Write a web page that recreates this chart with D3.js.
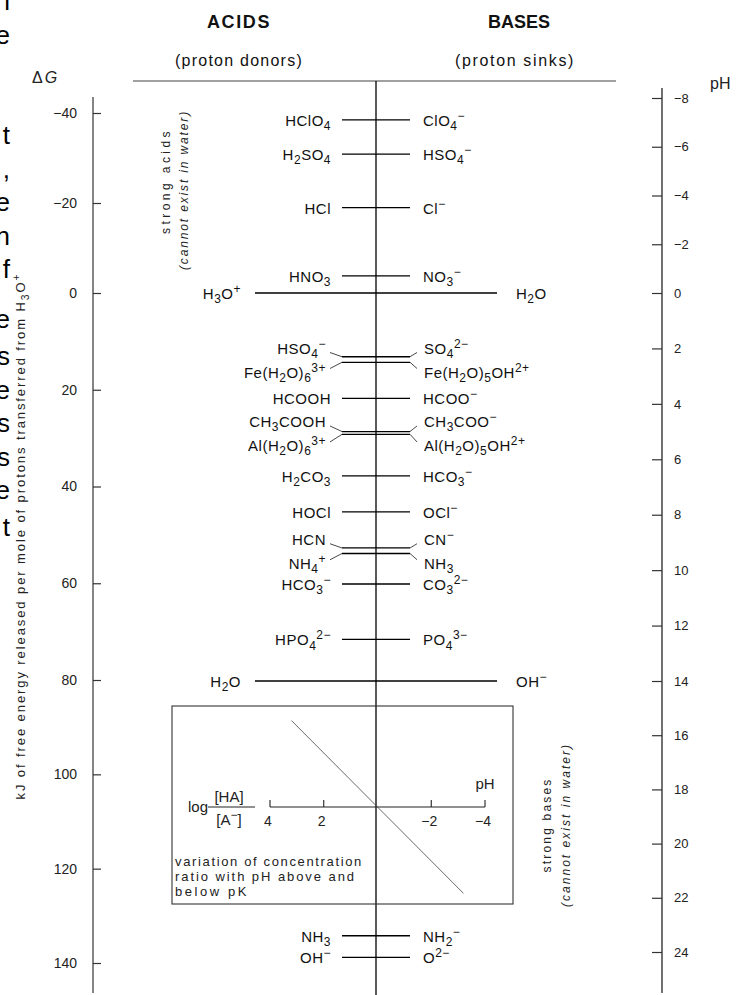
<!DOCTYPE html>
<html>
<head>
<meta charset="utf-8">
<script src="https://cdn.jsdelivr.net/npm/d3@7"></script>
<style>
body { margin: 0; background: #fff; }
svg { display: block; font-family: "Liberation Sans", Arial, sans-serif; }
</style>
</head>
<body>
<script>
// acid / conjugate base pairs, top to bottom, placed by pKa
var acids = ["HClO_4", "H_2SO_4", "HCl", "HNO_3", "H_3O^+", "HSO_4^−", "Fe(H_2O)_6^{3+}", "HCOOH",
    "CH_3COOH", "Al(H_2O)_6^{3+}", "H_2CO_3", "HOCl", "HCN", "NH_4^+", "HCO_3^−", "HPO_4^{2−}",
    "H_2O", "NH_3", "OH^−"];
var bases = ["ClO_4^−", "HSO_4^−", "Cl^−", "NO_3^−", "H_2O", "SO_4^{2−}", "Fe(H_2O)_5OH^{2+}", "HCOO^−",
    "CH_3COO^−", "Al(H_2O)_5OH^{2+}", "HCO_3^−", "OCl^−", "CN^−", "NH_3", "CO_3^{2−}", "PO_4^{3−}",
    "OH^−", "NH_2^−", "O^{2−}"];
var pKa = [-7.1, -5.7, -3.5, -0.7, 0, 2.3, 2.5, 3.8, 5.0, 5.1, 6.6, 7.9, 9.2, 9.4, 10.5, 12.5, 14, 23.4, 24.2];
var waterLimits = [0, 14];   // H3O+ and OH- levelling limits get the long lines

var gTicks = [-40, -20, 0, 20, 40, 60, 80, 100, 120, 140];
var phTicks = [-8, -6, -4, -2, 0, 2, 4, 6, 8, 10, 12, 14, 16, 18, 20, 22, 24];

// inset: log([HA]/[A-]) against pH
var insetTicks = [4, 2, -2, -4];
var insetLineX = [3.2, -3.2];
var insetLineY = [3.2, -3.2];

// clipped letters of the neighbouring page column
var bleedChars = ["l", "e", "t", ",", "e", "n", "f", "e", "s", "e", "s", "s", "e", "t"];
var bleedRow = [0, 1, 4, 5, 6, 7, 8, 9.5, 10.6, 11.6, 12.6, 13.6, 14.6, 15.7];

var W = 742, H = 995;
var cx = 376;

var svg = d3.select("body").append("svg")
    .attr("width", W)
    .attr("height", H);

// pH scale drives the species; the scan is slightly stretched below 0
var y = d3.scaleLinear().domain([-8, 0, 14, 24]).range([98, 293, 681, 952]);
var yG = d3.scaleLinear().domain([-40, 0, 80, 140]).range([113, 293, 680, 963]);

function formula(sel, str, fs) {
    var parts = [];
    var i = 0;
    while (i < str.length) {
        var c = str[i];
        if (c === "_" || c === "^") {
            var body;
            if (str[i + 1] === "{") {
                var j = str.indexOf("}", i);
                body = str.slice(i + 2, j);
                i = j + 1;
            } else {
                body = str[i + 1];
                i += 2;
            }
            parts.push({t: body, k: c});
        } else {
            var last = parts[parts.length - 1];
            if (last && last.k === "n") last.t += c;
            else parts.push({t: c, k: "n"});
            i++;
        }
    }
    var cur = 0;
    parts.forEach(function(p) {
        var off = p.k === "_" ? fs * 0.28 : (p.k === "^" ? -fs * 0.4 : 0);
        sel.append("tspan")
            .attr("dy", off - cur)
            .attr("font-size", p.k === "n" ? fs : fs * 0.8)
            .text(p.t);
        cur = off;
    });
}

function fit(sel, w) {
    sel.each(function() {
        var len = this.getComputedTextLength();
        var n = this.textContent.length;
        if (n > 1) d3.select(this).attr("letter-spacing", (w - len) / n);
    });
}

// bleed letters on the far left
svg.selectAll("text.bleed")
    .data(bleedChars)
    .enter()
    .append("text")
    .attr("class", "bleed")
    .attr("x", 10)
    .attr("y", function(d, i) { return 10 + bleedRow[i] * 33.5; })
    .attr("text-anchor", "end")
    .attr("font-size", 26)
    .attr("fill", "#000")
    .text(function(d) { return d; });

// headers
var heads = [
    {t: "ACIDS", x: 239, y: 28, fs: 18, w: 64, b: true},
    {t: "BASES", x: 519, y: 28, fs: 18, w: 62, b: true},
    {t: "(proton donors)", x: 239, y: 66, fs: 16, w: 128},
    {t: "(proton sinks)", x: 515, y: 66, fs: 16, w: 120}
];
heads.forEach(function(h) {
    svg.append("text")
        .attr("x", h.x)
        .attr("y", h.y)
        .attr("text-anchor", "middle")
        .attr("font-size", h.fs)
        .attr("font-weight", h.b ? "bold" : null)
        .attr("fill", "#111")
        .text(h.t)
        .call(fit, h.w);
});

svg.append("line")
    .attr("x1", 133).attr("x2", 616)
    .attr("y1", 81).attr("y2", 81)
    .attr("stroke", "#444").attr("stroke-width", 1.2);

// delta G label
var dg = svg.append("text").attr("x", 32).attr("y", 83).attr("font-size", 16).attr("fill", "#222");
dg.append("tspan").text("Δ");
dg.append("tspan").attr("font-style", "italic").attr("dx", 2).text("G");

svg.append("text")
    .attr("x", 710).attr("y", 89)
    .attr("font-size", 16).attr("fill", "#222")
    .text("pH");

// left axis (kJ)
svg.append("line")
    .attr("x1", 93).attr("x2", 93).attr("y1", 97).attr("y2", 993)
    .attr("stroke", "#333").attr("stroke-width", 1.2);

var axL = svg.append("g")
    .attr("transform", "translate(93,0)")
    .call(d3.axisLeft(yG).tickValues(gTicks).tickSizeInner(-8).tickSizeOuter(0).tickPadding(16));
axL.select(".domain").remove();
axL.selectAll("line").attr("stroke", "#333").attr("stroke-width", 1.2);
axL.selectAll("text").attr("font-size", 14).attr("fill", "#222").attr("font-family", null);

// right axis (pH)
svg.append("line")
    .attr("x1", 662).attr("x2", 662).attr("y1", 88).attr("y2", 993)
    .attr("stroke", "#111").attr("stroke-width", 1.2);

var axR = svg.append("g")
    .attr("transform", "translate(662,0)")
    .call(d3.axisRight(y).tickValues(phTicks).tickSizeInner(-10).tickSizeOuter(0).tickPadding(12));
axR.select(".domain").remove();
axR.selectAll("line").attr("stroke", "#333").attr("stroke-width", 1.2);
axR.selectAll("text").attr("font-size", 13).attr("fill", "#222").attr("font-family", null);

// rotated axis title
var yt = svg.append("text")
    .attr("transform", "translate(25,536) rotate(-90)")
    .attr("text-anchor", "middle")
    .attr("font-size", 13)
    .attr("fill", "#222");
formula(yt, "kJ of free energy released per mole of protons transferred from H_3O^+", 13);
fit(yt, 527);

// centre line
svg.append("line")
    .attr("x1", cx).attr("x2", cx).attr("y1", 81).attr("y2", H)
    .attr("stroke", "#000").attr("stroke-width", 1.3);

// pairs
var pairs = pKa.map(function(p, i) {
    return {acid: acids[i], base: bases[i], y: y(p), ly: y(p), bent: 0,
        wide: waterLimits.indexOf(p) >= 0};
});
for (var i = 0; i < pairs.length - 1; i++) {
    if (pairs[i + 1].y - pairs[i].y < 12) {
        var mid = (pairs[i].y + pairs[i + 1].y) / 2;
        pairs[i].ly = mid - 12; pairs[i].bent = -1;
        pairs[i + 1].ly = mid + 12; pairs[i + 1].bent = 1;
    }
}

var gp = svg.append("g");
pairs.forEach(function(d) {
    var half = d.wide ? 121 : 34;
    gp.append("line")
        .attr("x1", cx - half).attr("x2", cx + half)
        .attr("y1", d.y).attr("y2", d.y)
        .attr("stroke", "#000").attr("stroke-width", 1.3);

    var lx = d.wide ? cx - 135 : (d.bent ? cx - 50 : cx - 45);
    var rx = d.wide ? cx + 140 : (d.bent ? cx + 48 : cx + 47);

    if (d.bent) {
        var ey = d.bent < 0 ? d.ly + 5 : d.ly - 3;
        gp.append("path")
            .attr("d", "M" + (cx - 34) + "," + d.y + "L" + (cx - 46) + "," + ey)
            .attr("stroke", "#333").attr("fill", "none").attr("stroke-width", 0.9);
        gp.append("path")
            .attr("d", "M" + (cx + 34) + "," + d.y + "L" + (cx + 41) + "," + ey)
            .attr("stroke", "#333").attr("fill", "none").attr("stroke-width", 0.9);
    }

    var ta = gp.append("text")
        .attr("x", lx).attr("y", d.ly + 6)
        .attr("text-anchor", "end")
        .attr("font-size", 15).attr("fill", "#111").attr("letter-spacing", 0.5);
    formula(ta, d.acid, 15);

    var tb = gp.append("text")
        .attr("x", rx).attr("y", d.ly + 6)
        .attr("font-size", 15).attr("fill", "#111").attr("letter-spacing", 0.5);
    formula(tb, d.base, 15);
});

// strong acid / strong base notes
var notes = [
    {t: "strong acids", x: 170, y: 181, w: 106, it: false},
    {t: "(cannot exist in water)", x: 188, y: 190, w: 160, it: true},
    {t: "strong bases", x: 551, y: 825, w: 95, it: false},
    {t: "(cannot exist in water)", x: 570, y: 825, w: 164, it: true}
];
notes.forEach(function(n) {
    svg.append("text")
        .attr("transform", "translate(" + n.x + "," + n.y + ") rotate(-90)")
        .attr("text-anchor", "middle")
        .attr("font-size", 12)
        .attr("font-style", n.it ? "italic" : null)
        .attr("fill", "#222")
        .text(n.t)
        .call(fit, n.w);
});

// inset box
var box = {x0: 172, y0: 706, x1: 513, y1: 904};
svg.append("rect")
    .attr("x", box.x0).attr("y", box.y0)
    .attr("width", box.x1 - box.x0).attr("height", box.y1 - box.y0)
    .attr("fill", "none").attr("stroke", "#333").attr("stroke-width", 1.1);

var xIn = d3.scaleLinear().domain([4, -4]).range([270, 485]);
var yIn = d3.scaleLinear().domain([-4, 4]).range([807 + 4 * 27, 807 - 4 * 27]);

svg.append("line")
    .attr("x1", xIn(4)).attr("x2", xIn(-4))
    .attr("y1", yIn(0)).attr("y2", yIn(0))
    .attr("stroke", "#222").attr("stroke-width", 1.1);

svg.selectAll("line.itick")
    .data(insetTicks)
    .enter()
    .append("line")
    .attr("class", "itick")
    .attr("x1", function(d) { return xIn(d); })
    .attr("x2", function(d) { return xIn(d); })
    .attr("y1", yIn(0)).attr("y2", yIn(0) - 7)
    .attr("stroke", "#222").attr("stroke-width", 1.1);

svg.selectAll("text.itick")
    .data(insetTicks)
    .enter()
    .append("text")
    .attr("class", "itick")
    .attr("x", function(d) { return xIn(d) - 2; })
    .attr("y", yIn(0) + 19)
    .attr("text-anchor", "middle")
    .attr("font-size", 14).attr("fill", "#222")
    .text(function(d) { return d < 0 ? "−" + (-d) : d; });

svg.append("text")
    .attr("x", xIn(-4)).attr("y", 789)
    .attr("text-anchor", "middle")
    .attr("font-size", 15).attr("fill", "#222")
    .text("pH");

svg.append("line")
    .attr("x1", xIn(insetLineX[0])).attr("y1", yIn(insetLineY[0]))
    .attr("x2", xIn(insetLineX[1])).attr("y2", yIn(insetLineY[1]))
    .attr("stroke", "#444").attr("stroke-width", 0.8);

// log [HA]/[A-]
svg.append("text").attr("x", 188).attr("y", 812).attr("font-size", 15).attr("fill", "#222").text("log");
svg.append("text").attr("x", 229).attr("y", 802).attr("text-anchor", "middle")
    .attr("font-size", 15).attr("fill", "#222").text("[HA]");
var fa = svg.append("text").attr("x", 229).attr("y", 825).attr("text-anchor", "middle")
    .attr("font-size", 15).attr("fill", "#222");
formula(fa, "[A^−]", 15);
svg.append("line")
    .attr("x1", 208).attr("x2", 255).attr("y1", 807).attr("y2", 807)
    .attr("stroke", "#222").attr("stroke-width", 1.1);

var caption = ["variation of concentration", "ratio with pH above and", "below pK"];
var capW = [188, 181, 74];
caption.forEach(function(c, i) {
    svg.append("text")
        .attr("x", 175).attr("y", 866 + i * 15)
        .attr("font-size", 13).attr("fill", "#222")
        .text(c)
        .call(fit, capW[i]);
});
</script>
</body>
</html>
